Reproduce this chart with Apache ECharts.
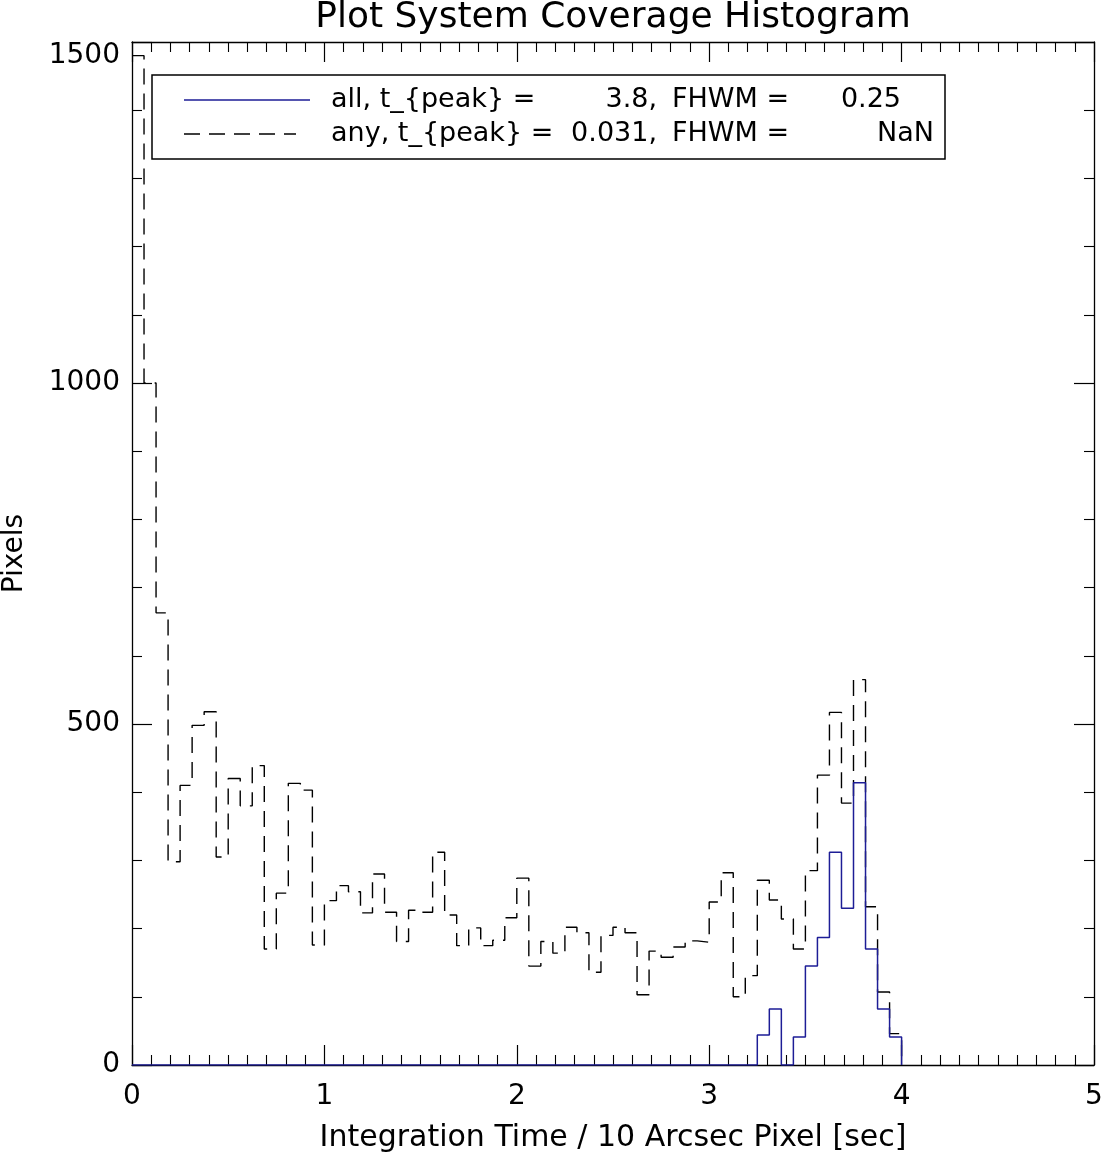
<!DOCTYPE html>
<html>
<head>
<meta charset="utf-8">
<script src="https://cdn.jsdelivr.net/npm/echarts@6/dist/echarts.min.js"></script>
<style>
html,body{margin:0;padding:0;background:#fff;}
#chart{width:1104px;height:1152px;}
</style>
</head>
<body>
<div id="chart"></div>
<script>
// ---- data ----
const binWidth = 0.0625; // histogram bin width (sec)
// "any" coverage histogram, one value per bin starting at 0 (last entry closes the step at 4.0)
const anyCounts = [1480, 1000, 663, 298, 410, 498, 518, 305, 420, 380,
                   439, 170, 252, 413, 403, 176, 241, 263, 254, 223,
                   280, 224, 181, 227, 224, 312, 220, 175, 201, 175,
                   183, 216, 274, 145, 181, 164, 202, 194, 136, 190,
                   202, 194, 103, 167, 158, 173, 182, 180, 239, 282,
                   100, 131, 271, 242, 214, 170, 285, 425, 517, 384,
                   565, 232, 107, 46, 0];
// "all" coverage histogram
const allCounts = [0, 0, 0, 0, 0, 0, 0, 0, 0, 0,
                   0, 0, 0, 0, 0, 0, 0, 0, 0, 0,
                   0, 0, 0, 0, 0, 0, 0, 0, 0, 0,
                   0, 0, 0, 0, 0, 0, 0, 0, 0, 0,
                   0, 0, 0, 0, 0, 0, 0, 0, 0, 0,
                   0, 0, 44, 82, 0, 41, 145, 187, 312, 230,
                   414, 170, 82, 41, 0];
const xTicks = [0, 1, 2, 3, 4, 5];
const yTicks = [0, 500, 1000, 1500];
const titleText = 'Plot System Coverage Histogram';
const xName = 'Integration Time / 10 Arcsec Pixel [sec]';
const yName = 'Pixels';
const legendRows = [
  {label: 'all, t_{peak} =', peak: '3.8,', fwhm: '0.25'},
  {label: 'any, t_{peak} =', peak: '0.031,', fwhm: 'NaN'}
];

// ---- build ----
const FONT = "'DejaVu Sans', sans-serif";
const toSteps = arr => arr.map((v, i) => [i * binWidth, v]);

const chart = echarts.init(document.getElementById('chart'), null, {renderer: 'canvas'});

const axLine = {show: true, onZero: false, lineStyle: {color: '#000', width: 1.3}};
const axTick = {show: true, inside: true, length: 20, lineStyle: {color: '#000', width: 1.2}};
function minor(n) { return {show: true, splitNumber: n, length: 10, lineStyle: {color: '#000', width: 1.1}}; }

const xBase = {
  type: 'value', min: xTicks[0], max: xTicks[xTicks.length - 1], interval: 1,
  axisLine: axLine, axisTick: axTick, minorTick: minor(10),
  splitLine: {show: false}, minorSplitLine: {show: false}
};
const yBase = {
  type: 'value', min: yTicks[0], max: yTicks[yTicks.length - 1], interval: 500,
  axisLine: axLine, axisTick: axTick, minorTick: minor(5),
  splitLine: {show: false}, minorSplitLine: {show: false}
};

const gridL = 132, gridR = 10, gridT = 42, gridB = 87;
const plotCx = gridL + (1104 - gridL - gridR) / 2;

const option = {
  animation: false,
  backgroundColor: '#fff',
  grid: {left: gridL, right: gridR, top: gridT, bottom: gridB, containLabel: false, outerBoundsMode: 'none'},
  xAxis: [
    Object.assign({}, xBase, {
      position: 'bottom',
      axisLabel: {show: true, color: '#000', fontSize: 28, fontFamily: FONT, margin: 18,
                  formatter: v => String(v)},
      name: xName, nameLocation: 'middle', nameGap: 58,
      nameTextStyle: {color: '#000', fontSize: 30, fontFamily: FONT}
    }),
    Object.assign({}, xBase, {position: 'top', axisLabel: {show: false}})
  ],
  yAxis: [
    Object.assign({}, yBase, {
      position: 'left',
      axisLabel: {show: true, color: '#000', fontSize: 28, fontFamily: FONT, margin: 12,
                  verticalAlignMaxLabel: 'top', formatter: v => String(v)},
      name: yName, nameLocation: 'middle', nameGap: 103, nameRotate: 90,
      nameTextStyle: {color: '#000', fontSize: 28, fontFamily: FONT}
    }),
    Object.assign({}, yBase, {position: 'right', axisLabel: {show: false}})
  ],
  series: [
    {
      name: 'any', type: 'line', step: 'end', xAxisIndex: 0, yAxisIndex: 0,
      data: toSteps(anyCounts), showSymbol: false, symbol: 'none', clip: true,
      lineStyle: {color: '#000', width: 1.4, type: [16, 9]}, z: 3
    },
    {
      name: 'all', type: 'line', step: 'end', xAxisIndex: 0, yAxisIndex: 0,
      data: toSteps(allCounts), showSymbol: false, symbol: 'none', clip: true,
      lineStyle: {color: '#1d1d96', width: 1.5, type: 'solid'}, z: 4
    }
  ],
  graphic: [
    {type: 'text', x: plotCx, y: 18, style: {text: titleText, fill: '#000', font: '36px ' + FONT,
      textAlign: 'center', textVerticalAlign: 'middle'}},
    {type: 'rect', shape: {x: 152, y: 75, width: 793, height: 84},
      style: {fill: '#fff', stroke: '#000', lineWidth: 1.5}, z: 10},
    {type: 'line', shape: {x1: 184, y1: 100, x2: 310, y2: 100},
      style: {stroke: '#1d1d96', lineWidth: 1.5}, z: 11},
    {type: 'line', shape: {x1: 184, y1: 134, x2: 296, y2: 134},
      style: {stroke: '#000', lineWidth: 1.5, lineDash: [16, 9]}, z: 11}
  ]
};

const rowY = [100, 134];
const LF = '27px ' + FONT;
legendRows.forEach((r, i) => {
  option.graphic.push(
    {type: 'text', x: 331, y: rowY[i], z: 11, style: {text: r.label, fill: '#000', font: LF, textAlign: 'left', textVerticalAlign: 'middle'}},
    {type: 'text', x: 657, y: rowY[i], z: 11, style: {text: r.peak, fill: '#000', font: LF, textAlign: 'right', textVerticalAlign: 'middle'}},
    {type: 'text', x: 672, y: rowY[i], z: 11, style: {text: 'FHWM =', fill: '#000', font: LF, textAlign: 'left', textVerticalAlign: 'middle'}},
    {type: 'text', x: (i === 0 ? 901 : 934), y: rowY[i], z: 11, style: {text: r.fwhm, fill: '#000', font: LF, textAlign: 'right', textVerticalAlign: 'middle'}}
  );
});

chart.setOption(option);
</script>
</body>
</html>
